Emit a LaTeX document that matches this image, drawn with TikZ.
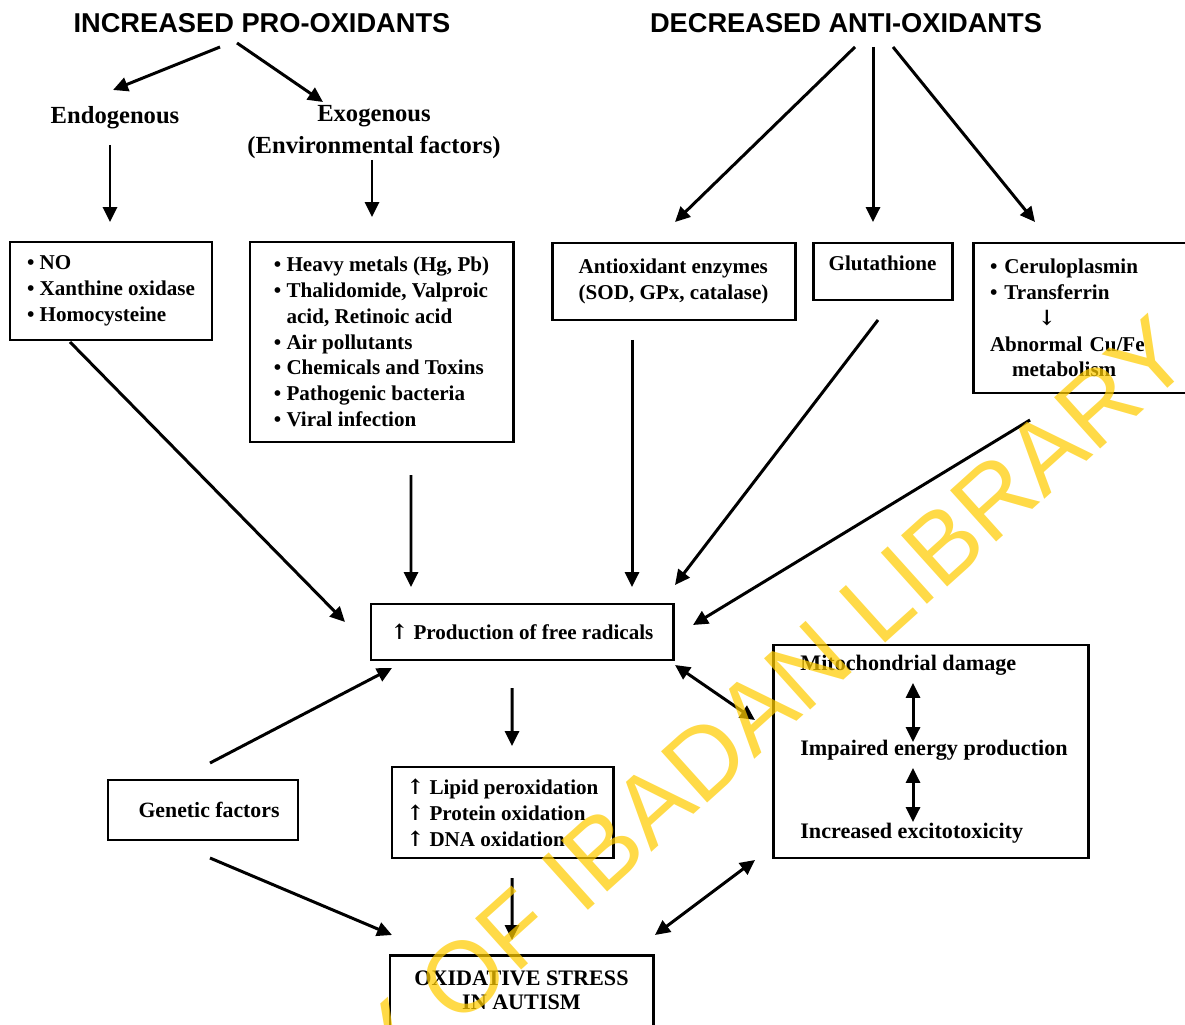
\documentclass[tikz,border=0pt]{standalone}
\usepackage{fontspec}
\setmainfont{Liberation Serif}
\newfontfamily\headfont{Liberation Sans}
\newfontfamily\arrfont{DejaVu Serif}
\usetikzlibrary{arrows.meta,calc}
\newlength\pxu \setlength\pxu{0.2mm}
\definecolor{wmyellow}{RGB}{255,204,0}
\newcommand{\uparr}{{\arrfont\bfseries ↑}}
\newcommand{\downarr}{{\arrfont\bfseries ↓}}
\begin{document}
\begin{tikzpicture}[x=0.2mm,y=-0.2mm,
  every node/.style={font=\bfseries\fontsize{12}{14.7}\selectfont},
  box/.style={draw,line width=1.7pt,inner ysep=0pt,align=left},
  arr/.style={line width=1.7pt,-{Triangle[length=8.5pt,width=8pt]}},
  darr/.style={line width=1.7pt,{Triangle[length=8.5pt,width=8pt]}-{Triangle[length=8.5pt,width=8pt]}},
  head/.style={font=\headfont\bfseries\fontsize{15.5}{18}\selectfont},
  sub/.style={font=\bfseries\fontsize{14}{16.4}\selectfont,align=center},
  intext/.style={inner sep=0pt,anchor=west,font=\bfseries\fontsize{12.6}{15}\selectfont},
]
\useasboundingbox (0,0) rectangle (1185,1025);

% headings
\node[head] (h1) at (262,23) {INCREASED PRO-OXIDANTS};
\node[head] (h2) at (846,23) {DECREASED ANTI-OXIDANTS};
\node[sub] (endo) at (115,118) {Endogenous};
\node[sub] (exo) at (374,132) {Exogenous\\[2pt](Environmental factors)};

% boxes
\node[box,minimum width=202\pxu,minimum height=98\pxu] (endobox) at (111,291)
  {\textbullet\ NO\\\textbullet\ Xanthine oxidase\\\textbullet\ Homocysteine};
\node[box,minimum width=263\pxu,minimum height=200\pxu] (exobox) at (381.5,342)
  {\textbullet\ Heavy metals (Hg, Pb)\\\textbullet\ Thalidomide, Valproic\\\phantom{\textbullet\ }acid, Retinoic acid\\\textbullet\ Air pollutants\\\textbullet\ Chemicals and Toxins\\\textbullet\ Pathogenic bacteria\\\textbullet\ Viral infection};
\node[box,minimum width=243\pxu,minimum height=77\pxu] (aebox) at (673.5,281.5)
  {Antioxidant enzymes\\(SOD, GPx, catalase)};
\node[box,minimum width=139\pxu,text height=28\pxu,text depth=29\pxu] (glut) at (882.5,271.5)
  {Glutathione};
\node[box,text width=193\pxu,inner xsep=17\pxu,minimum height=150\pxu] (cerbox) at (1086.5,318)
  {\textbullet\ Ceruloplasmin\\\textbullet\ Transferrin\\\hspace*{48\pxu}\downarr\\Abnormal Cu/Fe\\\hspace*{22\pxu}metabolism};
\node[box,minimum width=302\pxu,minimum height=56\pxu] (prod) at (522,632)
  {\uparr\ Production of free radicals};
\node[box,minimum width=221\pxu,minimum height=91\pxu] (lipid) at (502.5,812.5)
  {\uparr\ Lipid peroxidation\\\uparr\ Protein oxidation\\\uparr\ DNA oxidation};
\node[box,minimum width=190\pxu,minimum height=60\pxu,font=\bfseries\fontsize{12.4}{14.7}\selectfont] (gen) at (203,810)
  {\hspace*{12\pxu}Genetic factors};
\node[box,minimum width=263\pxu,minimum height=80\pxu] (oxid) at (521.5,995) {};
\node[align=center,font=\bfseries\fontsize{12.6}{13.8}\selectfont] (oxidt) at (521.5,990)
  {OXIDATIVE STRESS\\IN AUTISM};
\node[box,minimum width=315\pxu,minimum height=213\pxu] (mito) at (930.5,751.5) {};
\node[intext] (m1) at (800,665) {Mitochondrial damage};
\node[intext] (m2) at (800,750) {Impaired energy production};
\node[intext] (m3) at (800,833) {Increased excitotoxicity};

% connectors
\draw[arr] ($(h1)+(-42,24)$) -- ($(endo)+(-2,-28)$);
\draw[arr] ($(h1)+(-25,20)$) -- ($(exo)+(-51,-30)$);
\draw[arr] ($(endo)+(-5,27)$) -- ($(endobox)+(-1,-69)$);
\draw[arr] ($(exo)+(-2,28)$) -- ($(exobox)+(-9.5,-125)$);
\draw[arr] ($(h2)+(9,24)$) -- ($(aebox)+(1.5,-59.5)$);
\draw[arr] ($(h2)+(27,24)$) -- ($(glut)+(-9.5,-49.5)$);
\draw[arr] ($(h2)+(47,24)$) -- ($(cerbox)+(-51.5,-96)$);
\draw[arr] ($(endobox)+(-41,51)$) -- ($(prod)+(-177,-10)$);
\draw[arr] ($(exobox)+(29.5,133)$) -- ($(prod)+(-111,-45)$);
\draw[arr] ($(aebox)+(-41.5,58.5)$) -- ($(prod)+(110,-45)$);
\draw[arr] ($(glut)+(-4.5,48.5)$) -- ($(prod)+(153,-47)$);
\draw[arr] ($(cerbox)+(-56.5,102)$) -- ($(prod)+(171,-7)$);
\draw[arr] ($(prod)+(-10,56)$) -- ($(lipid)+(9.5,-66.5)$);
\draw[arr] ($(lipid)+(9.5,65.5)$) -- ($(oxid)+(-9.5,-55)$);
\draw[arr] ($(gen)+(7,-47)$) -- ($(prod)+(-130,36)$);
\draw[arr] ($(gen)+(7,48)$) -- ($(oxid)+(-129.5,-60)$);
\draw[darr] ($(prod)+(153,33)$) -- ($(mito)+(-175.5,-31.5)$);
\draw[darr] ($(oxid)+(133.5,-60)$) -- ($(mito)+(-175.5,108.5)$);
\draw[darr] ($(m1.west)+(113,18)$) -- ($(m2.west)+(113,-8)$);
\draw[darr] ($(m2.west)+(113,18)$) -- ($(m3.west)+(113,-11)$);

% watermark
\node[rotate=42,text=wmyellow,opacity=0.72,font=\headfont\fontsize{57}{57}\selectfont] (wm) at (570,880) {UNIVERSITY OF IBADAN LIBRARY};
\end{tikzpicture}
\end{document}
